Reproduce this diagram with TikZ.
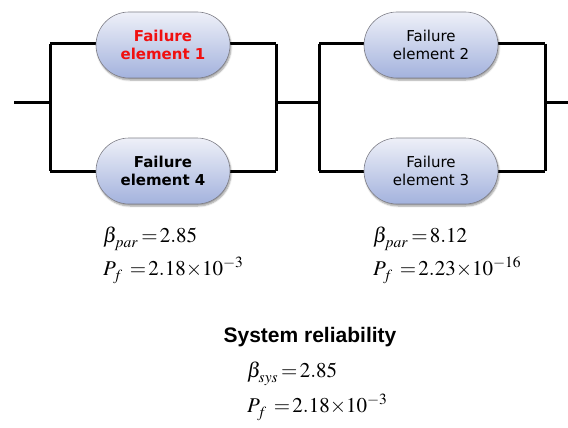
\documentclass[tikz,border=0pt]{standalone}
\usepackage{mathptmx}
\usepackage[no-math]{fontspec}
\newfontfamily\elemfont{DejaVu Sans}
\newfontfamily\headfont{Liberation Sans}
\usetikzlibrary{positioning,shadows.blur,calc}
\definecolor{boxTop}{HTML}{EEF0F8}
\definecolor{boxBot}{HTML}{A3B2DD}
\definecolor{boxEdge}{HTML}{7F7F88}
\definecolor{failRed}{HTML}{F01010}
\newcommand{\lowsub}[1]{_{\raisebox{-2.5pt}{$\scriptstyle #1$}}}
\tikzset{
  elem/.style={rounded corners=33pt, draw=boxEdge, line width=0.6pt,
              top color=boxTop, bottom color=boxBot,
              minimum width=134pt, minimum height=66pt, inner sep=0pt,
              align=center, font=\elemfont\fontsize{15}{18}\selectfont,
              blur shadow={shadow blur steps=5, shadow xshift=1pt, shadow yshift=-2pt}},
  wire/.style={line width=3pt, draw=black},
  eq/.style={anchor=base west, inner sep=0pt, font=\fontsize{21}{25}\selectfont},
  head/.style={anchor=base, inner sep=0pt, font=\headfont\bfseries\fontsize{21}{25}\selectfont},
}

\begin{document}
\begin{tikzpicture}[x=1pt,y=-1pt]
  \useasboundingbox (0,0) rectangle (568,428);
  % junction points of the two parallel groups
  \coordinate (in)  at (14,103);
  \coordinate (ja)  at (50,103);
  \coordinate (jb)  at (276,103);
  \coordinate (jc)  at (319,103);
  \coordinate (jd)  at (545,103);
  \coordinate (out) at (568,103);
  \coordinate (ta) at (50,44);  \coordinate (ba) at (50,171);
  \coordinate (tb) at (276,44); \coordinate (bb) at (276,171);
  \coordinate (tc) at (319,44); \coordinate (bc) at (319,171);
  \coordinate (td) at (545,44); \coordinate (bd) at (545,171);
  \draw[wire] (in) -- (ja) (jb) -- (jc) (jd) -- (out);
  \draw[wire] (ta) -- (ba) (tb) -- (bb) (tc) -- (bc) (td) -- (bd);
  \draw[wire] (ta) -- (tb) (ba) -- (bb) (tc) -- (td) (bc) -- (bd);
  % failure elements
  \node[elem,text=failRed,font=\elemfont\bfseries\fontsize{15}{18}\selectfont] (e1) at (163,45) {Failure\\element 1};
  \node[elem,font=\elemfont\bfseries\fontsize{15}{18}\selectfont] (e4) at (163,171) {Failure\\element 4};
  \node[elem] (e2) at (431,45) {Failure\\element 2};
  \node[elem] (e3) at (431,171) {Failure\\element 3};
  % results
  \node[eq] (bpa) at (103,242) {$\beta\lowsub{par}\:{=}\,2.85$};
  \node[eq] (pfa) at (103,275) {$P\lowsub{f}\;\,{=}\,2.18{\times}10^{-3}$};
  \node[eq] (bpb) at (373,242) {$\beta\lowsub{par}\:{=}\,8.12$};
  \node[eq] (pfb) at (373,275) {$P\lowsub{f}\;\,{=}\,2.23{\times}10^{-16}$};
  \node[head] (sys) at (310,342) {System reliability};
  \node[eq] (bsys) at (247,377) {$\beta\lowsub{sys}\:{=}\,2.85$};
  \node[eq] (pfs) at (247,412) {$P\lowsub{f}\;\,{=}\,2.18{\times}10^{-3}$};
\end{tikzpicture}
\end{document}
